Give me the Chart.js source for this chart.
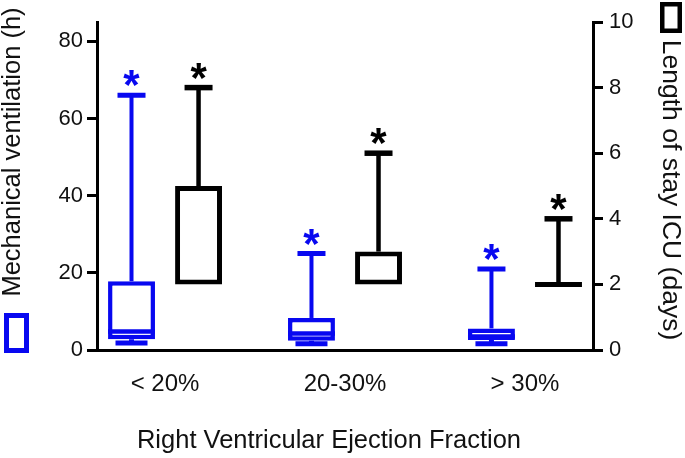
<!DOCTYPE html>
<html>
<head>
<meta charset="utf-8">
<script src="https://cdn.jsdelivr.net/npm/chart.js@4.4.1/dist/chart.umd.min.js"></script>
<style>
  html, body { margin: 0; padding: 0; background: #fff; }
  canvas { display: block; }
</style>
</head>
<body>
<canvas id="boxChart" width="685" height="458"></canvas>
<script>
const categories = ['< 20%', '20-30%', '> 30%'];

// Mechanical ventilation (h), left axis
const ventMin = [1.8, 1.6, 1.6];
const ventQ1 = [2.8, 2.4, 2.6];
const ventMedian = [4.8, 4.3, 3.5];
const ventQ3 = [17.8, 8.3, 5.6];
const ventMax = [66, 25, 21];

// Length of stay ICU (days), right axis
const stayMin = [2, 2, 2];
const stayQ1 = [2, 2, 2];
const stayMedian = [2, 2, 2];
const stayQ3 = [5, 3, 2];
const stayMax = [8, 6, 4];

const ventTicks = [0, 20, 40, 60, 80];
const stayTicks = [0, 2, 4, 6, 8, 10];

const BLUE = '#0808f0';
const FONT = "'Liberation Sans', Arial, sans-serif";

function boxData(q1, q3) {
    return categories.map((c, i) => ({ x: i, y: [q1[i], q3[i]] }));
}

// whiskers, medians and the significance stars
const boxWhiskers = {
    id: 'boxWhiskers',
    afterDatasetsDraw(chart) {
        const ctx = chart.ctx;
        chart.data.datasets.forEach((ds, di) => {
            const meta = chart.getDatasetMeta(di);
            const yScale = chart.scales[ds.yAxisID];
            const st = ds.stats;
            meta.data.forEach((bar, i) => {
                const x = bar.x;
                const half = bar.width / 2;
                const cap = 14;
                const yMin = yScale.getPixelForValue(st.min[i]);
                const yQ1 = yScale.getPixelForValue(st.q1[i]);
                const yMed = yScale.getPixelForValue(st.median[i]);
                const yQ3 = yScale.getPixelForValue(st.q3[i]);
                const yMax = yScale.getPixelForValue(st.max[i]);

                ctx.save();
                ctx.strokeStyle = ds.borderColor;
                ctx.lineWidth = ds.whiskerWidth;
                ctx.lineCap = 'butt';

                ctx.beginPath();
                ctx.moveTo(x, yQ3);
                ctx.lineTo(x, yMax);
                ctx.stroke();

                ctx.lineWidth = ds.whiskerWidth + 1;
                ctx.beginPath();
                ctx.moveTo(x - cap, yMax);
                ctx.lineTo(x + cap, yMax);
                if (st.min[i] < st.q1[i]) {
                    ctx.moveTo(x, yQ1);
                    ctx.lineTo(x, yMin);
                    ctx.moveTo(x - cap - 2, yMin);
                    ctx.lineTo(x + cap + 2, yMin);
                }
                ctx.stroke();

                if (st.median[i] > st.q1[i] || st.q1[i] === st.q3[i]) {
                    ctx.lineWidth = ds.borderWidth;
                    ctx.beginPath();
                    ctx.moveTo(x - half, yMed);
                    ctx.lineTo(x + half, yMed);
                    ctx.stroke();
                }

                ctx.fillStyle = ds.borderColor;
                ctx.font = 'bold 42px ' + FONT;
                ctx.textAlign = 'center';
                ctx.textBaseline = 'alphabetic';
                ctx.fillText('*', x, yMax + 4);
                ctx.restore();
            });
        });
    }
};

// axis titles with their legend squares
const sideLabels = {
    id: 'sideLabels',
    afterDraw(chart) {
        const ctx = chart.ctx;
        ctx.save();
        ctx.fillStyle = '#111';
        ctx.textAlign = 'center';
        ctx.textBaseline = 'middle';

        ctx.font = '25.5px ' + FONT;
        ctx.save();
        ctx.translate(13, 152);
        ctx.rotate(-Math.PI / 2);
        ctx.fillText('Mechanical ventilation (h)', 0, 0);
        ctx.restore();

        ctx.font = '26.5px ' + FONT;
        ctx.save();
        ctx.translate(670, 190);
        ctx.rotate(Math.PI / 2);
        ctx.fillText('Length of stay ICU (days)', 0, 0);
        ctx.restore();

        ctx.font = '25.5px ' + FONT;
        ctx.fillText('Right Ventricular Ejection Fraction', 329, 441);

        ctx.lineWidth = 5;
        ctx.strokeStyle = BLUE;
        ctx.strokeRect(6.5, 315.5, 20, 35);
        ctx.lineWidth = 4.5;
        ctx.strokeStyle = '#000';
        ctx.strokeRect(662.25, 4.25, 17.5, 26.5);
        ctx.restore();
    }
};

const tickFont = { family: FONT, size: 22 };

new Chart(document.getElementById('boxChart'), {
    type: 'bar',
    data: {
        datasets: [
            {
                label: 'Mechanical ventilation (h)',
                data: boxData(ventQ1, ventQ3),
                stats: { min: ventMin, q1: ventQ1, median: ventMedian, q3: ventQ3, max: ventMax },
                yAxisID: 'y',
                borderColor: BLUE,
                backgroundColor: '#fff',
                borderWidth: 4.5,
                borderSkipped: false,
                whiskerWidth: 4,
                categoryPercentage: 0.745,
                barPercentage: 0.7
            },
            {
                label: 'Length of stay ICU (days)',
                data: boxData(stayQ1, stayQ3),
                stats: { min: stayMin, q1: stayQ1, median: stayMedian, q3: stayQ3, max: stayMax },
                yAxisID: 'y1',
                borderColor: '#000',
                backgroundColor: '#fff',
                borderWidth: 5,
                borderSkipped: false,
                whiskerWidth: 4.5,
                categoryPercentage: 0.745,
                barPercentage: 0.7
            }
        ]
    },
    options: {
        responsive: false,
        animation: false,
        layout: { padding: { top: 22, left: 0, right: 0, bottom: 0 } },
        plugins: {
            legend: { display: false },
            tooltip: { enabled: false }
        },
        scales: {
            x: {
                type: 'linear',
                min: -0.378,
                max: 2.378,
                offset: false,
                bounds: 'data',
                grid: { display: false, drawTicks: false, offset: false },
                border: { display: true, color: '#000', width: 3 },
                afterBuildTicks: s => { s.ticks = categories.map((c, i) => ({ value: i })); },
                afterFit: s => { s.height = 108; },
                ticks: {
                    callback: v => categories[v],
                    font: { family: FONT, size: 24 },
                    color: '#111',
                    padding: 20,
                    autoSkip: false,
                    maxRotation: 0
                }
            },
            y: {
                position: 'left',
                min: 0,
                max: 85,
                afterBuildTicks: s => { s.ticks = ventTicks.map(v => ({ value: v })); },
                afterFit: s => { s.width = 97; },
                grid: { drawOnChartArea: false, color: '#000', lineWidth: 3, tickLength: 10 },
                border: { color: '#000', width: 3 },
                ticks: { font: tickFont, color: '#111', padding: 4 }
            },
            y1: {
                position: 'right',
                min: 0,
                max: 10,
                afterBuildTicks: s => { s.ticks = stayTicks.map(v => ({ value: v })); },
                afterFit: s => { s.width = 92; },
                grid: { drawOnChartArea: false, color: '#000', lineWidth: 3, tickLength: 10 },
                border: { color: '#000', width: 3 },
                ticks: { font: tickFont, color: '#111', padding: 6 }
            }
        }
    },
    plugins: [boxWhiskers, sideLabels]
});
</script>
</body>
</html>
